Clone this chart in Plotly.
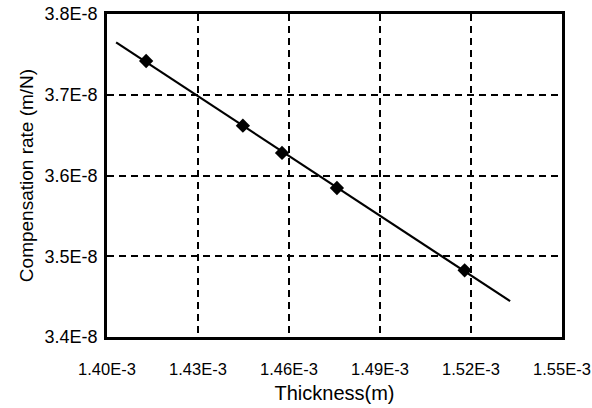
import numpy as np
import plotly.graph_objects as go

# Measured thickness (m) and compensation rate (m/N)
thickness = [1.4129e-3, 1.4448e-3, 1.4577e-3, 1.4758e-3, 1.5179e-3]
comp_rate = [3.7418e-8, 3.6617e-8, 3.6279e-8, 3.5845e-8, 3.4826e-8]

# Extent of the linear trend line
fit_x_range = [1.4030e-3, 1.5329e-3]

x_ticks = [1.40e-3, 1.43e-3, 1.46e-3, 1.49e-3, 1.52e-3, 1.55e-3]
x_tick_text = ["1.40E-3", "1.43E-3", "1.46E-3", "1.49E-3", "1.52E-3", "1.55E-3"]
y_ticks = [3.4e-8, 3.5e-8, 3.6e-8, 3.7e-8, 3.8e-8]
y_tick_text = ["3.4E-8", "3.5E-8", "3.6E-8", "3.7E-8", "3.8E-8"]

slope, intercept = np.polyfit(np.array(thickness) * 1e3, np.array(comp_rate) * 1e8, 1)
fit_x = np.array(fit_x_range)
fit_y = (slope * fit_x * 1e3 + intercept) * 1e-8

fig = go.Figure()
fig.add_trace(go.Scatter(
    x=fit_x, y=fit_y, mode="lines",
    line=dict(color="black", width=2.2),
    showlegend=False, hoverinfo="skip",
))
fig.add_trace(go.Scatter(
    x=thickness, y=comp_rate, mode="markers",
    marker=dict(symbol="diamond", size=11, color="black"),
    showlegend=False,
))

font = dict(family="Liberation Sans, Arial, sans-serif", color="black")

axis_common = dict(
    showline=True, linecolor="black", linewidth=2.5, mirror=True,
    showgrid=True, gridcolor="black", gridwidth=1.5, griddash="7px,5px",
    zeroline=False, ticks="",
    automargin=False, ticklabeloverflow="allow",
)

fig.update_xaxes(
    range=[1.40e-3, 1.55e-3], tickvals=x_ticks, ticktext=x_tick_text,
    tickfont=dict(size=16.5, **font),
    title=dict(text="Thickness(m)", font=dict(size=20, **font), standoff=10),
    ticklabelstandoff=15,
    **axis_common,
)
fig.update_yaxes(
    range=[3.4e-8, 3.8e-8], tickvals=y_ticks, ticktext=y_tick_text,
    tickfont=dict(size=18, **font),
    title=dict(text="Compensation rate (m/N)", font=dict(size=19, **font), standoff=6),
    ticklabelstandoff=3,
    **axis_common,
)

fig.update_layout(
    width=592, height=408,
    margin=dict(l=107, r=30, t=14, b=71),
    paper_bgcolor="white", plot_bgcolor="white",
    font=font,
)

fig.write_html("out.html")
